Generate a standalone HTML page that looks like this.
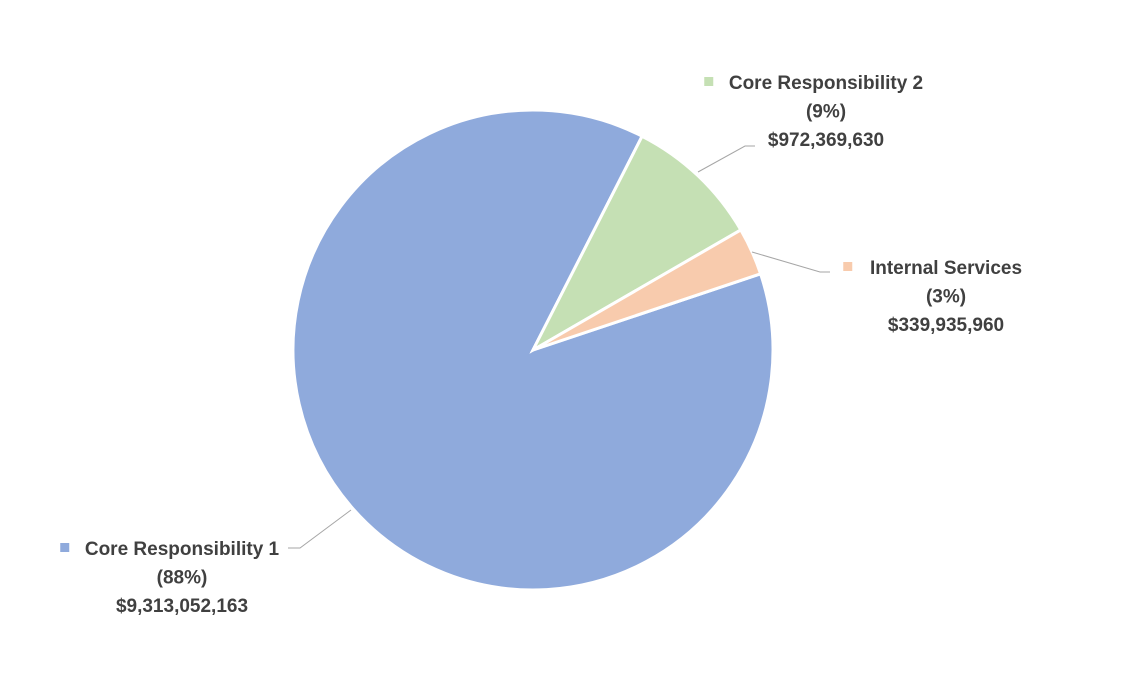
<!DOCTYPE html>
<html><head><meta charset="utf-8"><style>
html,body{margin:0;padding:0;background:#fff;}
svg{display:block;}
text{font-family:"Liberation Sans",sans-serif;font-weight:bold;font-size:19px;fill:#404040;}
</style></head><body>
<svg id="chart" width="1140" height="685"></svg>
<script>
const categories = ["Core Responsibility 1","Core Responsibility 2","Internal Services"];
const values = [9313052163, 972369630, 339935960];
const percentLabels = ["(88%)","(9%)","(3%)"];
const valueLabels = ["$9,313,052,163","$972,369,630","$339,935,960"];
const colors = ["#8faadc","#c5e0b4","#f8cbad"];
const firstAngle = 71.5;
const cx=533, cy=350, r=240;
const NS="http://www.w3.org/2000/svg";
const svg=document.getElementById('chart');
const total=values.reduce((a,b)=>a+b,0);
function pt(deg,rad){const a=(deg-90)*Math.PI/180;return [cx+rad*Math.cos(a),cy+rad*Math.sin(a)];}
let ang=firstAngle;
const mids=[];
values.forEach((v,i)=>{
  const sweep=v/total*360;
  const [x1,y1]=pt(ang,r),[x2,y2]=pt(ang+sweep,r);
  const p=document.createElementNS(NS,'path');
  p.setAttribute('d',`M${cx},${cy}L${x1},${y1}A${r},${r} 0 ${sweep>180?1:0} 1 ${x2},${y2}Z`);
  p.setAttribute('fill',colors[i]);p.setAttribute('stroke','#fff');p.setAttribute('stroke-width','3');
  
  
  svg.appendChild(p);
  mids.push(ang+sweep/2);
  ang+=sweep;
});
const labelPos=[{cx:182,ty:555},{cx:826,ty:89},{cx:946,ty:274}];
const leaderPts=["351,510 300,548 288,548","698,172 745,146 755,146","752,252 820,272 830,272"];
labelPos.forEach((L,i)=>{
  const pl=document.createElementNS(NS,'polyline');
  pl.setAttribute('points',leaderPts[i]);pl.setAttribute('fill','none');pl.setAttribute('stroke','#a6a6a6');pl.setAttribute('stroke-width','1');
  
  
  svg.appendChild(pl);
  const g=document.createElementNS(NS,'g');
  
  
  const lines=[categories[i],percentLabels[i],valueLabels[i]];
  lines.forEach((t,j)=>{
    const tx=document.createElementNS(NS,'text');
    tx.setAttribute('x',L.cx);tx.setAttribute('y',L.ty+j*28.5);tx.setAttribute('text-anchor','middle');
    tx.textContent=t;g.appendChild(tx);
  });
  svg.appendChild(g);
  const w=categories[i].length*9.5;
  const m=document.createElementNS(NS,'rect');
  m.setAttribute('x',L.cx-w/2-22);m.setAttribute('y',L.ty-12);m.setAttribute('width',9);m.setAttribute('height',9);
  m.setAttribute('fill',colors[i]);
  
  
  svg.appendChild(m);
});
</script>
</body></html>
